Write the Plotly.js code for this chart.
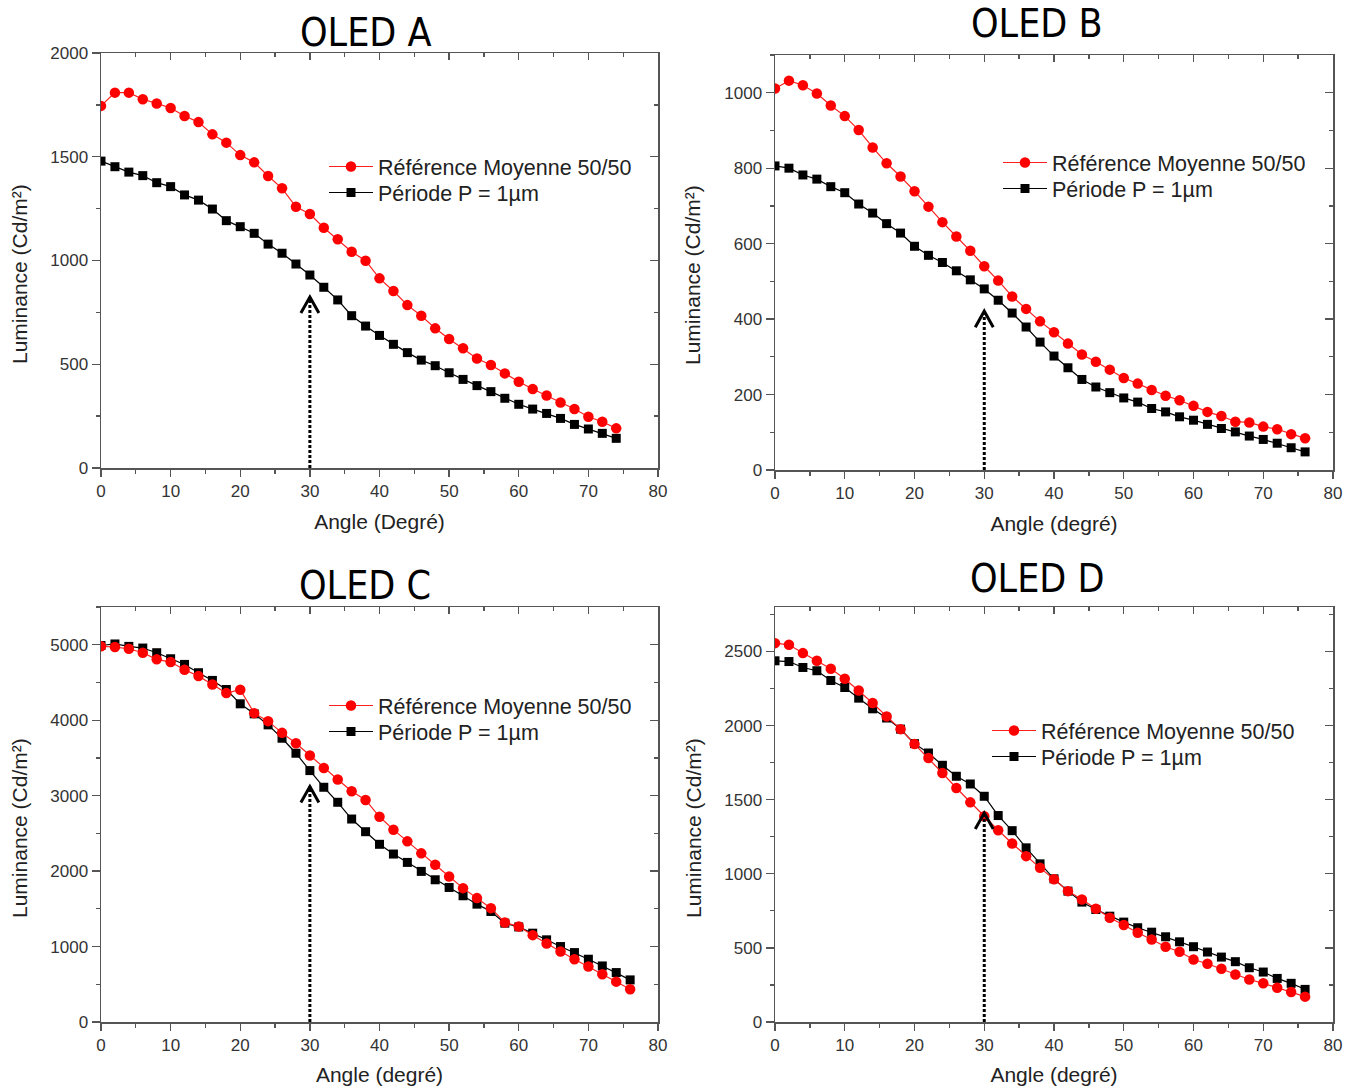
<!DOCTYPE html>
<html>
<head>
<meta charset="utf-8">
<script src="https://cdn.plot.ly/plotly-3.0.1.min.js"></script>
<style>html,body{margin:0;padding:0;background:#fff;}#chart{width:1354px;height:1086px;}</style>
</head>
<body>
<div id="chart"></div>
<script>
// ---------- data ----------
const panelTitles = ["OLED A", "OLED B", "OLED C", "OLED D"];
const xTitles = ["Angle (Degré)", "Angle (degré)", "Angle (degré)", "Angle (degré)"];
const yTitle = "Luminance (Cd/m²)";
const seriesNames = ["Référence Moyenne 50/50", "Période P = 1µm"];

const anglesA = [0,2,4,6,8,10,12,14,16,18,20,22,24,26,28,30,32,34,36,38,40,42,44,46,48,50,52,54,56,58,60,62,64,66,68,70,72,74];
const anglesBCD = [0,2,4,6,8,10,12,14,16,18,20,22,24,26,28,30,32,34,36,38,40,42,44,46,48,50,52,54,56,58,60,62,64,66,68,70,72,74,76];

const refA = [1745,1809,1809,1777,1757,1735,1696,1667,1608,1568,1508,1473,1407,1348,1259,1224,1158,1102,1042,999,914,853,785,734,673,622,577,528,496,456,416,381,349,316,284,247,223,191];
const perA = [1479,1452,1426,1409,1375,1356,1316,1291,1248,1192,1163,1131,1079,1035,983,930,871,810,734,684,639,596,556,520,493,459,427,397,368,336,307,284,263,239,210,188,167,143];

const refB = [1011,1032,1020,998,966,938,901,855,813,778,739,698,657,619,581,540,502,460,427,394,365,335,306,287,266,244,229,212,197,185,170,154,143,128,126,115,108,95,84];
const perB = [806,800,782,771,751,735,705,681,653,628,593,569,550,528,504,480,450,416,379,339,302,271,240,220,205,191,180,163,154,141,132,121,110,101,90,81,71,59,48];

const refC = [4980,4969,4947,4894,4806,4770,4668,4584,4474,4359,4403,4093,3987,3832,3695,3531,3367,3213,3058,2943,2720,2549,2394,2235,2084,1929,1774,1642,1509,1319,1266,1151,1040,934,832,735,633,535,434];
const perC = [4990,5010,4978,4956,4894,4814,4739,4629,4527,4407,4217,4084,3938,3761,3562,3332,3111,2912,2690,2522,2355,2226,2115,1996,1885,1783,1673,1562,1465,1310,1260,1177,1089,1000,920,832,743,655,558];

const refD = [2556,2545,2489,2437,2383,2316,2237,2152,2062,1976,1875,1781,1680,1579,1482,1388,1294,1204,1119,1040,963,883,827,764,703,654,602,557,508,474,422,393,359,321,287,261,231,202,171];
const perD = [2437,2432,2392,2370,2304,2257,2185,2113,2051,1976,1878,1815,1732,1658,1606,1523,1393,1291,1175,1067,966,883,809,759,714,674,636,606,575,541,508,472,438,407,366,337,294,261,220];

// arrow marking 30° and the luminance reached by its tip
const arrowAngle = [30, 30, 30, 30];
const arrowTip = [824, 421, 3120, 1410];

// axis settings
const yMax = [2000, 1100, 5500, 2800];
const yDtick = [500, 200, 1000, 500];

// ---------- layout helpers ----------
const W = 1354, H = 1086;
const boxes = [ // [left, right, top, bottom] in px
  [101, 658, 53, 468],
  [775, 1333, 55, 470],
  [101, 658, 607, 1022],
  [775, 1333, 607, 1022]
];
const titlePos = [[365, 32], [1037, 24], [365, 585], [1037, 578]];
const yTitlePos = [[19, 274], [693, 275], [19, 828], [693, 828]];
// legend rows: [left x, centre y of first row]
const legendPos = [[324, 166], [998, 162], [324, 705], [987, 730]];
const legendRowGap = 26;

const FONT = "Liberation Sans, Arial, sans-serif";
const tickFont = {family: FONT, size: 17, color: "#333"};
const axisColor = "#555";

const xs = [anglesA, anglesBCD, anglesBCD, anglesBCD];
const refs = [refA, refB, refC, refD];
const pers = [perA, perB, perC, perD];

const data = [];
const layout = {
  width: W, height: H,
  margin: {l: 0, r: 0, t: 0, b: 0},
  paper_bgcolor: "#fff", plot_bgcolor: "#fff",
  showlegend: true,
  annotations: [], shapes: []
};

function legendFor(name, x, yc) {
  layout[name] = {
    x: x / W, y: 1 - (yc - 20) / H, xanchor: "left", yanchor: "top",
    bgcolor: "rgba(0,0,0,0)", borderwidth: 0,
    font: {family: FONT, size: 21.5, color: "#222"},
    itemwidth: 44, tracegroupgap: 0
  };
}

for (let i = 0; i < 4; i++) {
  const n = i + 1;
  const sx = n === 1 ? "" : String(n);
  const xo = String(n + 4), yo = String(n + 4);
  const [L, R, T, B] = boxes[i];
  const xdom = [L / W, R / W];
  const ydom = [1 - B / H, 1 - T / H];
  const legRef = n === 1 ? "legend" : "legend" + (2 * n - 1);
  const legPer = "legend" + (2 * n);

  // invisible traces so that the mirrored frame axes get drawn
  data.push({x: xs[i], y: refs[i], xaxis: "x" + xo, yaxis: "y" + sx, mode: "markers",
             marker: {opacity: 0}, showlegend: false, hoverinfo: "skip"});
  data.push({x: xs[i], y: refs[i], xaxis: "x" + sx, yaxis: "y" + yo, mode: "markers",
             marker: {opacity: 0}, showlegend: false, hoverinfo: "skip"});

  data.push({
    x: xs[i], y: pers[i], name: seriesNames[1], type: "scatter", mode: "lines+markers",
    xaxis: "x" + sx, yaxis: "y" + sx, legend: legPer,
    line: {color: "#000", width: 1.2},
    marker: {symbol: "square", size: 9, color: "#000"}
  });
  data.push({
    x: xs[i], y: refs[i], name: seriesNames[0], type: "scatter", mode: "lines+markers",
    xaxis: "x" + sx, yaxis: "y" + sx, legend: legRef,
    line: {color: "#ff2020", width: 1.2},
    marker: {symbol: "circle", size: 10.5, color: "#ff0000"}
  });

  const common = {showgrid: false, zeroline: false, showline: true, linecolor: axisColor, linewidth: 1.5,
                  tickcolor: axisColor, tickwidth: 1.3, tickfont: tickFont};
  layout["xaxis" + sx] = Object.assign({}, common, {
    domain: xdom, anchor: "y" + sx, range: [0, 80], dtick: 10, tick0: 0,
    ticks: "outside", ticklen: 7,
    minor: {dtick: 5, ticks: "outside", ticklen: 4, tickcolor: axisColor, showgrid: false},
    title: {text: xTitles[i], standoff: 14, font: {family: FONT, size: 21, color: "#222"}}
  });
  layout["yaxis" + sx] = Object.assign({}, common, {
    domain: ydom, anchor: "x" + sx, range: [0, yMax[i]], dtick: yDtick[i], tick0: 0,
    ticks: "outside", ticklen: 8,
    minor: {dtick: yDtick[i] / 2, ticks: "outside", ticklen: 4, tickcolor: axisColor, showgrid: false}
  });
  // mirrored frame with inward ticks
  layout["xaxis" + xo] = Object.assign({}, common, {
    overlaying: "x" + sx, anchor: "y" + sx, side: "top", range: [0, 80], dtick: 10, tick0: 0,
    ticks: "inside", ticklen: 7, showticklabels: false,
    minor: {dtick: 5, ticks: "inside", ticklen: 4, tickcolor: axisColor, showgrid: false}
  });
  layout["yaxis" + yo] = Object.assign({}, common, {
    overlaying: "y" + sx, anchor: "x" + sx, side: "right", range: [0, yMax[i]], dtick: yDtick[i], tick0: 0,
    ticks: "inside", ticklen: 8, showticklabels: false,
    minor: {dtick: yDtick[i] / 2, ticks: "inside", ticklen: 4, tickcolor: axisColor, showgrid: false}
  });

  legendFor(legRef, legendPos[i][0], legendPos[i][1]);
  legendFor(legPer, legendPos[i][0], legendPos[i][1] + legendRowGap);

  layout.annotations.push({
    xref: "paper", yref: "paper", x: titlePos[i][0] / W, y: 1 - titlePos[i][1] / H,
    xanchor: "center", yanchor: "middle", showarrow: false, text: panelTitles[i],
    font: {family: "Liberation Sans Narrow, DejaVu Sans Condensed, Arial Narrow, sans-serif", size: 39, color: "#000"}
  });
  layout.annotations.push({
    xref: "paper", yref: "paper", x: yTitlePos[i][0] / W, y: 1 - yTitlePos[i][1] / H,
    xanchor: "center", yanchor: "middle", showarrow: false, text: yTitle, textangle: -90,
    font: {family: FONT, size: 21, color: "#222"}
  });

  // dotted arrow at 30°
  layout.shapes.push({
    type: "line", xref: "x" + sx, yref: "y" + sx, x0: arrowAngle[i], x1: arrowAngle[i], y0: 0, y1: arrowTip[i],
    line: {color: "#000", width: 3, dash: "3px,2px"}
  });
  layout.shapes.push({
    type: "path", xref: "x" + sx, yref: "y" + sx, xsizemode: "pixel", ysizemode: "pixel",
    xanchor: arrowAngle[i], yanchor: arrowTip[i],
    path: "M-9,-16 L0,0 L9,-16",
    line: {color: "#000", width: 3}
  });
}

Plotly.newPlot("chart", data, layout, {displayModeBar: false, staticPlot: true});
</script>
</body>
</html>
